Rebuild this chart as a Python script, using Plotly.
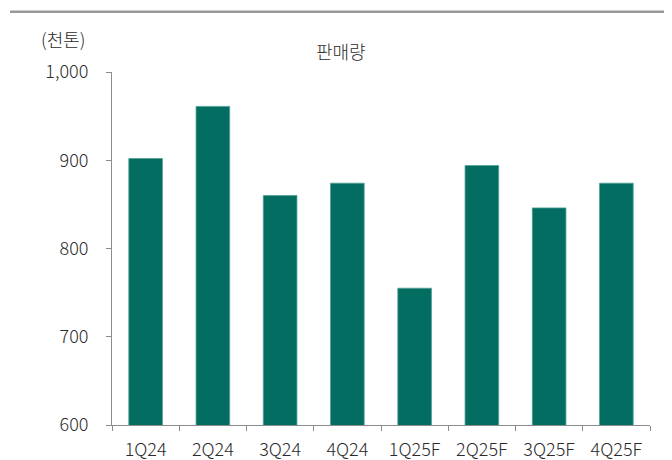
import plotly.graph_objects as go

categories = ["1Q24", "2Q24", "3Q24", "4Q24", "1Q25F", "2Q25F", "3Q25F", "4Q25F"]
sales = [902, 961, 860, 874, 755, 894, 846, 874]
y_ticks = [600, 700, 800, 900, 1000]
y_tick_labels = ["600", "700", "800", "900", "1,000"]
title_text = "판매량"
unit_text = "(천톤)"

FONT = "Noto Sans CJK KR"
AXIS_COLOR = "#8c8c8c"
TEXT_COLOR = "#2a2a2a"
WEIGHT = 300

# plot area in screen px (page has 8px body margin)
PX0, PX1, PY0, PY1 = 112, 650, 72, 425
PW, PH = PX1 - PX0, PY1 - PY0


def px(xs):
    return (xs - PX0) / PW


def py(ys):
    return (PY1 - ys) / PH


fig = go.Figure()
fig.add_trace(go.Bar(
    x=categories,
    y=sales,
    marker=dict(color="#036d62", line=dict(color="#4f9e95", width=0.8)),
))

tf = dict(family=FONT, size=18, color=TEXT_COLOR, weight=WEIGHT)

fig.update_layout(
    width=672,
    height=460,
    margin=dict(l=PX0 - 8, r=672 + 8 - PX1, t=PY0 - 8, b=460 + 8 - PY1),
    paper_bgcolor="white",
    plot_bgcolor="white",
    bargap=0.5,
    showlegend=False,
    font=tf,
    xaxis=dict(
        type="category",
        showline=True,
        linecolor=AXIS_COLOR,
        linewidth=1,
        ticks="outside",
        tickson="boundaries",
        ticklen=5,
        tickcolor=AXIS_COLOR,
        showgrid=False,
        tickfont=tf,
        ticklabelstandoff=8,
        automargin=False,
        range=[-0.5, 7.5],
    ),
    yaxis=dict(
        range=[600, 1000],
        tickvals=y_ticks,
        ticktext=y_tick_labels,
        showline=True,
        linecolor=AXIS_COLOR,
        linewidth=1,
        ticks="outside",
        ticklen=5,
        tickcolor=AXIS_COLOR,
        showgrid=False,
        zeroline=False,
        tickfont=tf,
        ticklabelstandoff=14,
        automargin=False,
    ),
    shapes=[
        dict(type="line", xref="paper", yref="paper",
             x0=px(10), x1=px(680), y0=py(11.7), y1=py(11.7),
             line=dict(color="#999999", width=2.5)),
    ],
    annotations=[
        dict(text=title_text, xref="paper", yref="paper",
             x=px(341), y=py(51), xanchor="center", yanchor="middle",
             showarrow=False, font=tf),
        dict(text=unit_text, xref="paper", yref="paper",
             x=px(63), y=py(39), xanchor="center", yanchor="middle",
             showarrow=False, font=tf),
    ],
)

fig.write_html("out.html")
